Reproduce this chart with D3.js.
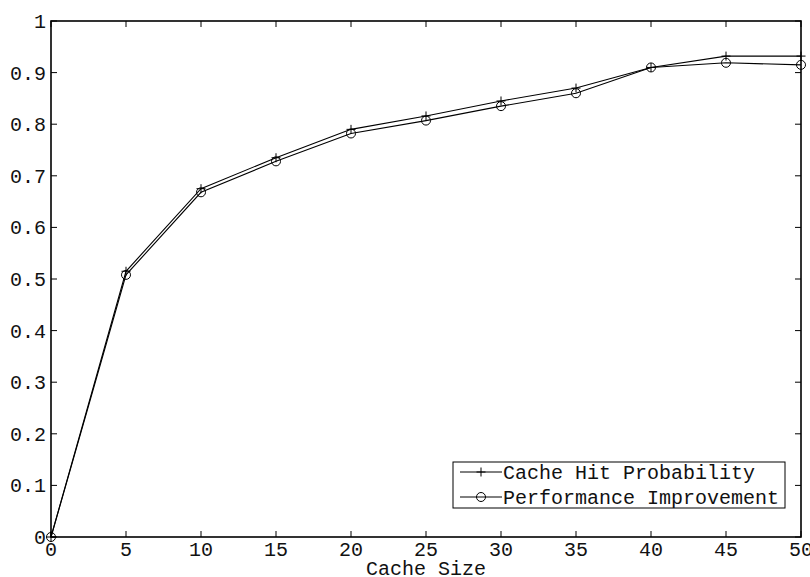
<!DOCTYPE html>
<html>
<head>
<meta charset="utf-8">
<script src="https://cdn.jsdelivr.net/npm/d3@7"></script>
<style>
  html, body { margin: 0; padding: 0; background: #fff; }
  svg { display: block; }
  text { font-family: "Courier New", "Liberation Mono", "DejaVu Sans Mono", monospace; font-size: 20px; fill: #111; }
</style>
</head>
<body>
<svg id="chart" width="810" height="577"></svg>
<script>
// Cache sizes tested and the two measured curves
const cacheSizes = [0, 5, 10, 15, 20, 25, 30, 35, 40, 45, 50];
const hitProbability = [0, 0.515, 0.675, 0.735, 0.79, 0.816, 0.845, 0.87, 0.91, 0.932, 0.932];
const perfImprovement = [0, 0.508, 0.668, 0.728, 0.782, 0.807, 0.835, 0.86, 0.91, 0.919, 0.915];
const xTicks = [0, 5, 10, 15, 20, 25, 30, 35, 40, 45, 50];
const yTicks = [0, 0.1, 0.2, 0.3, 0.4, 0.5, 0.6, 0.7, 0.8, 0.9, 1];
const seriesNames = ["Cache Hit Probability", "Performance Improvement"];

const svg = d3.select("#chart");
const plotL = 51, plotR = 801, plotT = 21, plotB = 537;

const x = d3.scaleLinear().domain([0, 50]).range([plotL, plotR]);
const y = d3.scaleLinear().domain([0, 1]).range([plotB, plotT]);

const tickLen = 6;
const fmtY = d => (d === 0 ? "0" : d === 1 ? "1" : d3.format(".1f")(d));

// tick marks on all four sides, pointing inward
const tg = svg.append("g").attr("stroke", "#000").attr("stroke-width", 1);
xTicks.forEach(t => {
  tg.append("line").attr("x1", x(t)).attr("x2", x(t)).attr("y1", plotB).attr("y2", plotB - tickLen);
  tg.append("line").attr("x1", x(t)).attr("x2", x(t)).attr("y1", plotT).attr("y2", plotT + tickLen);
});
yTicks.forEach(t => {
  tg.append("line").attr("x1", plotL).attr("x2", plotL + tickLen).attr("y1", y(t)).attr("y2", y(t));
  tg.append("line").attr("x1", plotR).attr("x2", plotR - tickLen).attr("y1", y(t)).attr("y2", y(t));
});

// tick labels
svg.append("g").selectAll("text").data(xTicks).join("text")
  .attr("x", d => x(d)).attr("y", 556).attr("text-anchor", "middle").text(d => d);
svg.append("g").selectAll("text").data(yTicks).join("text")
  .attr("x", plotL - 5).attr("y", d => y(d)).attr("dy", "0.35em").attr("text-anchor", "end").text(fmtY);

// axis title
svg.append("text").attr("x", (plotL + plotR) / 2).attr("y", 575).attr("text-anchor", "middle").text("Cache Size");

// data lines
const line = d3.line().x((d, i) => x(cacheSizes[i])).y(d => y(d));
[hitProbability, perfImprovement].forEach(s => {
  svg.append("path").datum(s).attr("d", line)
    .attr("fill", "none").attr("stroke", "#000").attr("stroke-width", 1.1);
});

// markers
function plus(g, cx, cy) {
  g.append("line").attr("x1", cx - 4.5).attr("x2", cx + 4.5).attr("y1", cy).attr("y2", cy);
  g.append("line").attr("x1", cx).attr("x2", cx).attr("y1", cy - 4.5).attr("y2", cy + 4.5);
}
function ring(g, cx, cy) {
  g.append("circle").attr("cx", cx).attr("cy", cy).attr("r", 4.5).attr("fill", "none");
}
const mg = svg.append("g").attr("stroke", "#000").attr("stroke-width", 1);
hitProbability.forEach((v, i) => plus(mg, x(cacheSizes[i]), y(v)));
perfImprovement.forEach((v, i) => ring(mg, x(cacheSizes[i]), y(v)));

// plot box
svg.append("rect").attr("x", plotL).attr("y", plotT).attr("width", plotR - plotL).attr("height", plotB - plotT)
  .attr("fill", "none").attr("stroke", "#000").attr("stroke-width", 1.6);

// legend
const lg = svg.append("g");
lg.append("rect").attr("x", 453).attr("y", 462).attr("width", 332).attr("height", 46)
  .attr("fill", "#fff").attr("stroke", "#000").attr("stroke-width", 1);
const rows = [472, 497];
const lm = lg.append("g").attr("stroke", "#000").attr("stroke-width", 1);
rows.forEach((ry, i) => {
  lm.append("line").attr("x1", 460).attr("x2", 502).attr("y1", ry).attr("y2", ry);
  if (i === 0) plus(lm, 481, ry); else ring(lm, 481, ry);
  lg.append("text").attr("x", 503).attr("y", ry).attr("dy", "0.35em").text(seriesNames[i]);
});
</script>
</body>
</html>
